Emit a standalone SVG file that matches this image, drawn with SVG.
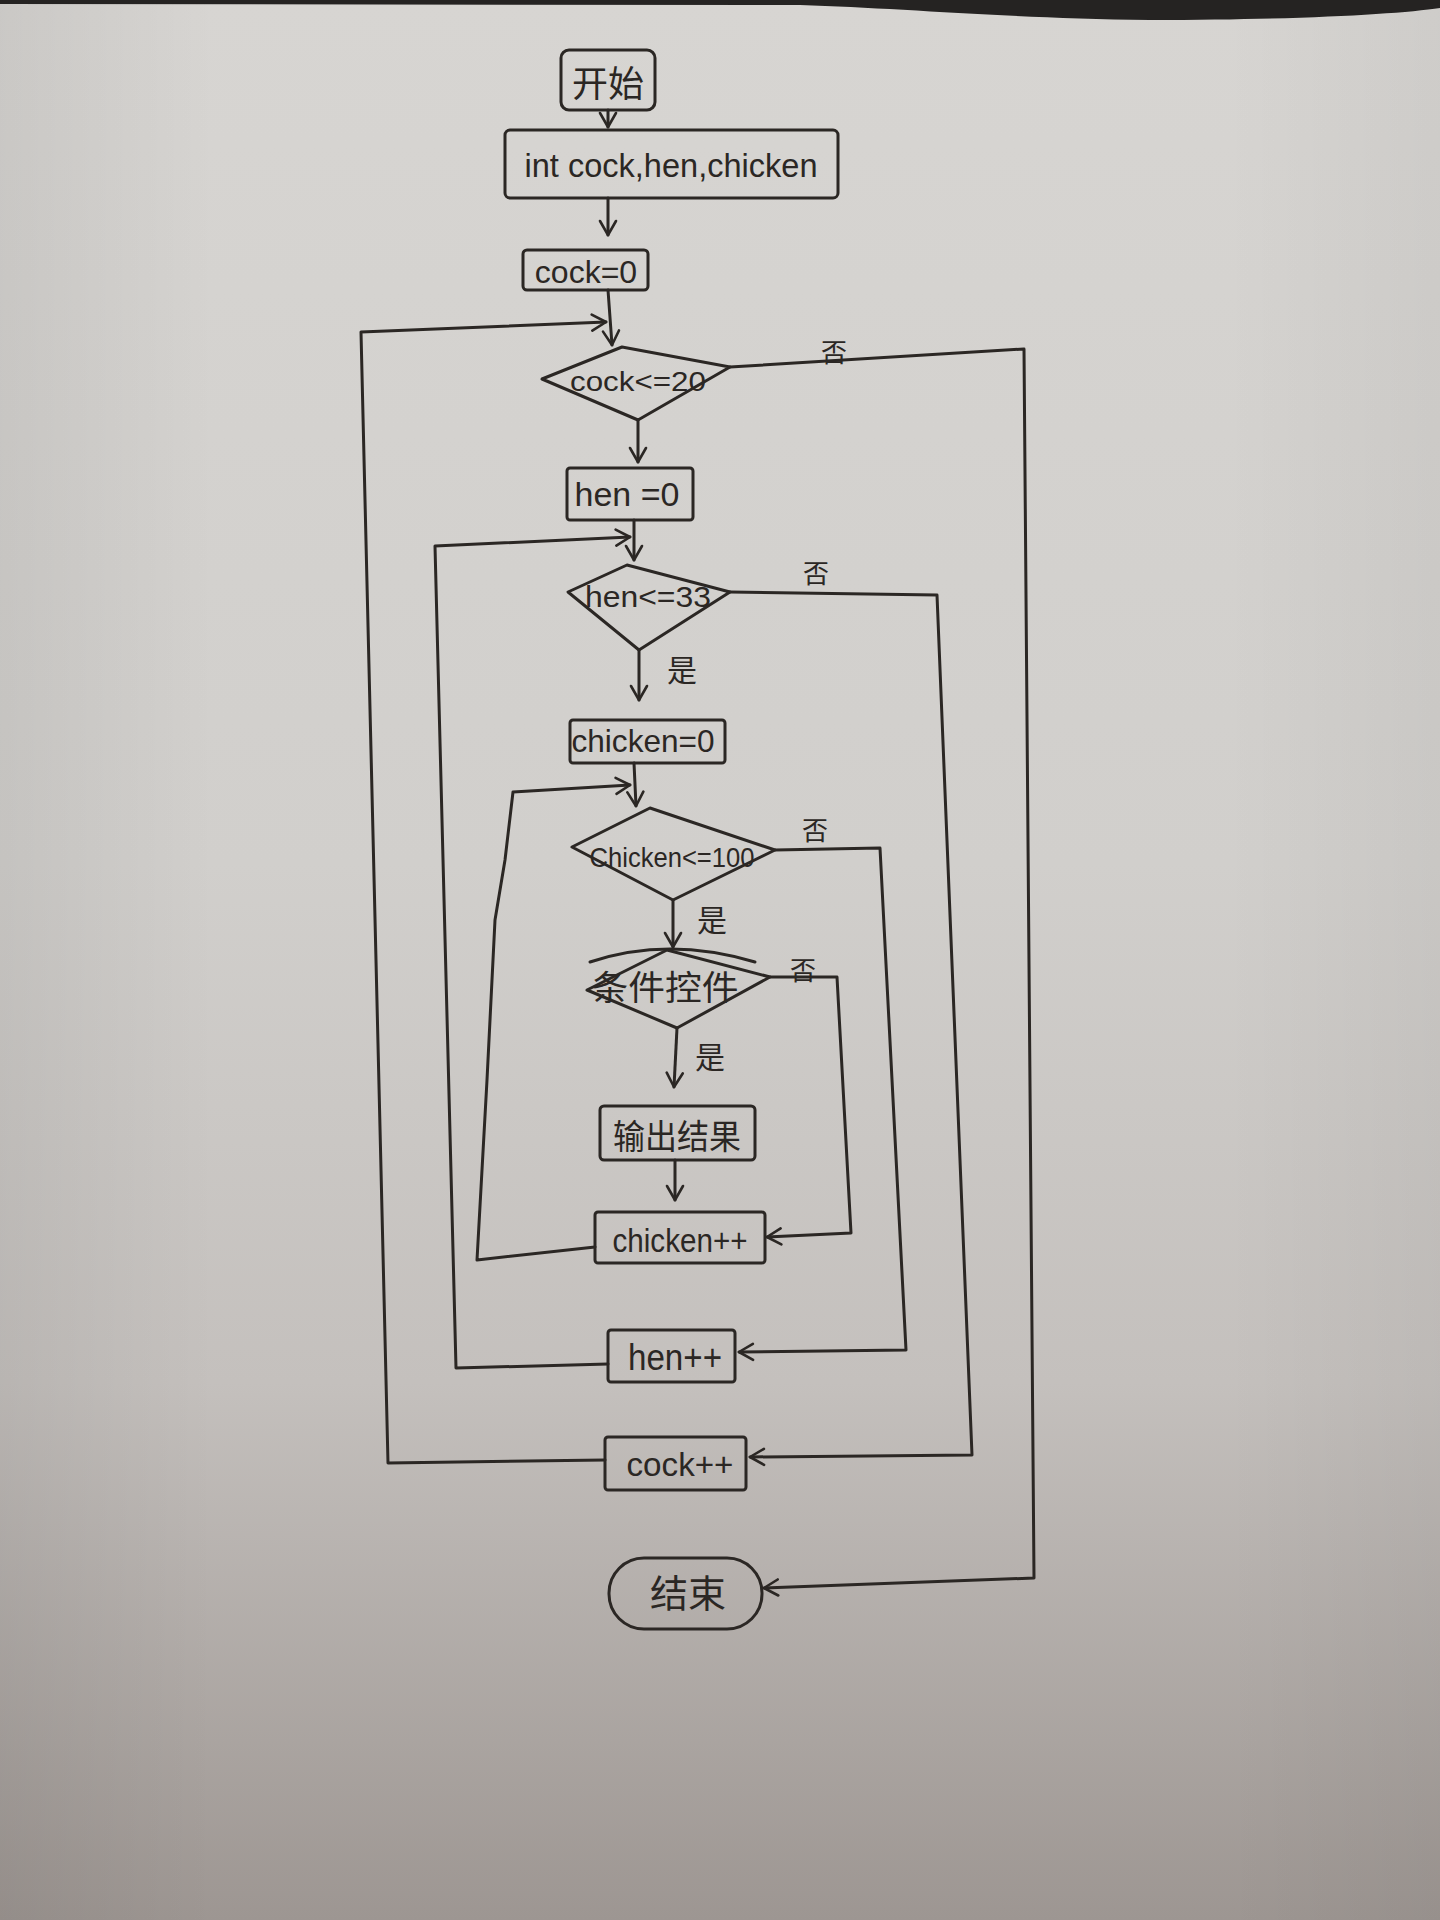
<svg xmlns="http://www.w3.org/2000/svg" width="1440" height="1920" viewBox="0 0 1440 1920">
<defs>
<linearGradient id="paper" x1="0" y1="0" x2="0" y2="1">
<stop offset="0" stop-color="#d7d5d2"/>
<stop offset="0.45" stop-color="#d1cfcc"/>
<stop offset="0.72" stop-color="#c4c0bd"/>
<stop offset="1" stop-color="#9d9692"/>
</linearGradient>
<linearGradient id="side" x1="0" y1="0" x2="1" y2="0">
<stop offset="0" stop-color="#000" stop-opacity="0.06"/>
<stop offset="0.15" stop-color="#000" stop-opacity="0"/>
<stop offset="0.85" stop-color="#000" stop-opacity="0"/>
<stop offset="1" stop-color="#000" stop-opacity="0.04"/>
</linearGradient>
<marker id="arr" viewBox="-16 -10 18 20" refX="0" refY="0" markerWidth="18" markerHeight="20" markerUnits="userSpaceOnUse" orient="auto">
<path d="M-14,-8 L0,0 L-14,8" fill="none" stroke="#2b2724" stroke-width="2.6" stroke-linecap="round" stroke-linejoin="round"/>
</marker>
<style>
.ink{fill:none;stroke:#2b2724;stroke-width:3;stroke-linejoin:round;stroke-linecap:round}
.box{fill:none;stroke:#2b2724;stroke-width:3;stroke-linejoin:round}
.t{font-family:"Liberation Sans","Noto Sans CJK SC",sans-serif;fill:#2b2724;text-anchor:middle}
.c{font-family:"Noto Sans CJK SC","Liberation Sans",sans-serif;fill:#2b2724;text-anchor:middle}
.edge{fill:none;stroke:#2b2724;stroke-width:3;stroke-linejoin:round;stroke-linecap:round}
.arrow{marker-end:url(#arr)}
</style>
</defs>
<rect x="0" y="0" width="1440" height="1920" fill="url(#paper)"/>
<rect x="0" y="0" width="1440" height="1920" fill="url(#side)"/>
<path d="M0,0 L1440,0 L1440,8 C1400,14 1300,20 1150,20 C1000,18 900,8 800,5 L0,4 Z" fill="#252322"/>

<g id="connectors">
<path class="edge arrow" d="M608,110 L608,127"/>
<path class="edge arrow" d="M608,198 L608,235"/>
<path class="edge arrow" d="M608,290 L612,345"/>
<path class="edge arrow" d="M605,1460 L388,1463 L361,332 L606,322"/>
<path class="edge arrow" d="M730,367 L1024,349 L1034,1578 L764,1588"/>
<path class="edge arrow" d="M638,420 L638,462"/>
<path class="edge arrow" d="M634,520 L634,560"/>
<path class="edge arrow" d="M608,1364 L456,1368 L435,546 L630,537"/>
<path class="edge arrow" d="M730,592 L937,595 L972,1455 L750,1457"/>
<path class="edge arrow" d="M639,650 L639,700"/>
<path class="edge arrow" d="M634,763 L636,806"/>
<path class="edge arrow" d="M595,1247 L477,1260 L487,1080 L495,920 L505,860 L513,792 L630,785"/>
<path class="edge arrow" d="M775,850 L880,848 L906,1350 L739,1352"/>
<path class="edge arrow" d="M673,900 L673,947"/>
<path class="edge arrow" d="M770,977 L837,977 L851,1233 L767,1237"/>
<path class="edge arrow" d="M677,1028 L674,1087"/>
<path class="edge arrow" d="M675,1160 L675,1200"/>
<text class="c" x="834" y="362" font-size="26">否</text>
<text class="c" x="816" y="583" font-size="26">否</text>
<text class="c" x="815" y="840" font-size="26">否</text>
<text class="c" x="803" y="980" font-size="26">否</text>
<text class="c" x="682" y="681" font-size="30">是</text>
<text class="c" x="712" y="931" font-size="30">是</text>
<text class="c" x="710" y="1068" font-size="30">是</text>
</g>

<g id="start">
<rect class="box" x="561" y="50" width="94" height="60" rx="8"/>
<text class="c" x="608" y="97" font-size="36">开始</text>
</g>
<g id="decl">
<rect class="box" x="505" y="130" width="333" height="68" rx="5"/>
<text class="t" x="671" y="177" font-size="34" textLength="293" lengthAdjust="spacingAndGlyphs">int cock,hen,chicken</text>
</g>
<g id="cock0">
<rect class="box" x="523" y="250" width="125" height="40" rx="4"/>
<text class="t" x="586" y="283" font-size="32">cock=0</text>
</g>
<g id="cockcond">
<polygon class="box" points="542,379 622,347 730,367 638,420"/>
<text class="t" x="638" y="391" font-size="28" textLength="136" lengthAdjust="spacingAndGlyphs">cock&lt;=20</text>
</g>
<g id="hen0">
<rect class="box" x="567" y="468" width="126" height="52" rx="3"/>
<text class="t" x="627" y="506" font-size="34">hen =0</text>
</g>
<g id="hencond">
<polygon class="box" points="568,592 627,565 730,592 639,650"/>
<text class="t" x="648" y="607" font-size="30" textLength="126" lengthAdjust="spacingAndGlyphs">hen&lt;=33</text>
</g>
<g id="chick0">
<rect class="box" x="570" y="720" width="155" height="43" rx="3"/>
<text class="t" x="643" y="752" font-size="32" textLength="143" lengthAdjust="spacingAndGlyphs">chicken=0</text>
</g>
<g id="chickcond">
<polygon class="box" points="572,847 650,808 775,850 673,900"/>
<text class="t" x="672" y="867" font-size="28" textLength="165" lengthAdjust="spacingAndGlyphs">Chicken&lt;=100</text>
</g>
<g id="cond">
<polygon class="box" points="587,990 667,950 770,977 677,1028"/>
<path class="ink" d="M590,962 Q668,936 755,962"/>
<text class="c" x="665" y="1000" font-size="34" textLength="147" lengthAdjust="spacingAndGlyphs">条件控件</text>
</g>
<g id="output">
<rect class="box" x="600" y="1106" width="155" height="54" rx="4"/>
<text class="c" x="677" y="1149" font-size="34" textLength="128" lengthAdjust="spacingAndGlyphs">输出结果</text>
</g>
<g id="chickinc">
<rect class="box" x="595" y="1212" width="170" height="51" rx="3"/>
<text class="t" x="680" y="1252" font-size="34" textLength="135" lengthAdjust="spacingAndGlyphs">chicken++</text>
</g>
<g id="heninc">
<rect class="box" x="608" y="1330" width="127" height="52" rx="3"/>
<text class="t" x="675" y="1370" font-size="36" textLength="94" lengthAdjust="spacingAndGlyphs">hen++</text>
</g>
<g id="cockinc">
<rect class="box" x="605" y="1437" width="141" height="53" rx="3"/>
<text class="t" x="680" y="1476" font-size="34" textLength="107" lengthAdjust="spacingAndGlyphs">cock++</text>
</g>
<g id="end">
<rect class="box" x="609" y="1558" width="153" height="71" rx="35"/>
<text class="c" x="688" y="1607" font-size="38">结束</text>
</g>
</svg>
